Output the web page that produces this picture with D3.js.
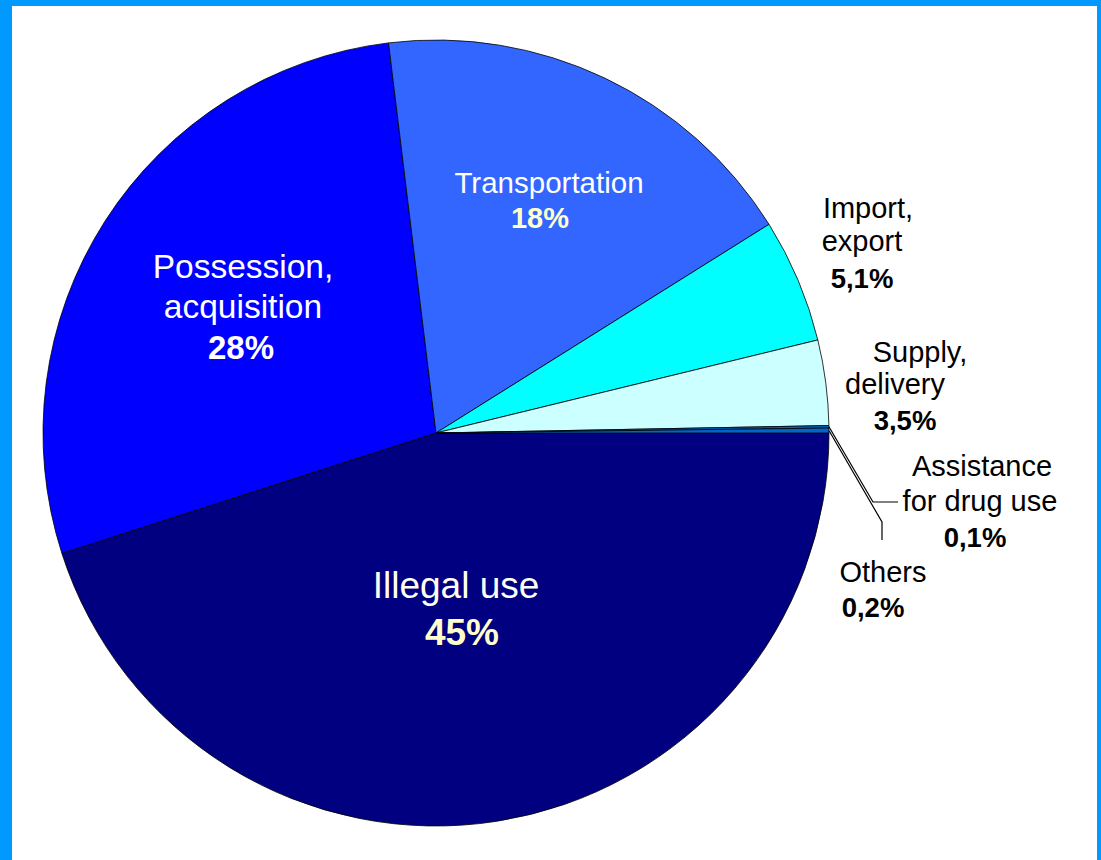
<!DOCTYPE html>
<html>
<head>
<meta charset="utf-8">
<script src="https://cdn.jsdelivr.net/npm/d3@7"></script>
<style>
  body { margin: 0; background: #fff; }
  svg { display: block; }
</style>
</head>
<body>
<svg id="chart" width="1101" height="860"></svg>
<script>
// data
let categories = ['Illegal use', 'Possession, acquisition', 'Transportation', 'Import, export',
    'Supply, delivery', 'Assistance for drug use', 'Others'];
let values = [45, 28, 18, 5.1, 3.5, 0.1, 0.2];
let colors = ['#000080', '#0000FF', '#3366FF', '#00FFFF', '#CCFFFF', '#0066CC', '#0066CC'];
let labelLines = [
    ['Illegal use'],
    ['Possession,', 'acquisition'],
    ['Transportation'],
    ['Import,', 'export'],
    ['Supply,', 'delivery'],
    ['Assistance', 'for drug use'],
    ['Others']
];

// layout of the labels (line centres and baselines)
let layout = [
    { xs: [456, 462], ys: [598, 645], size: 37, psize: 37, fill: '#FFFFF0', pfill: '#FFFFCC' },
    { xs: [243, 243, 241], ys: [278, 318, 359], size: 33.5, psize: 33, fill: '#FFFFFF', pfill: '#FFFFFF' },
    { xs: [549, 540], ys: [193, 228], size: 29.5, psize: 29, fill: '#FFFFFF', pfill: '#FFFFCC' },
    { xs: [868, 862, 862], ys: [218, 251, 288], size: 29, psize: 27.5, fill: '#000', pfill: '#000' },
    { xs: [920, 895, 905], ys: [362, 394, 430], size: 29, psize: 27.5, fill: '#000', pfill: '#000' },
    { xs: [982, 980, 975], ys: [476, 511, 547], size: 29, psize: 27.5, fill: '#000', pfill: '#000',
      leader: [[873, 502], [898, 502]] },
    { xs: [883, 873], ys: [582, 617], size: 29, psize: 27.5, fill: '#000', pfill: '#000',
      leader: [[882, 522], [882, 540]] }
];

let cx = 436, cy = 433, r = 393;

let fmt = v => (Number.isInteger(v) ? String(v) : String(v).replace('.', ',')) + '%';

let svg = d3.select('#chart');

// blue frame
svg.append('rect')
    .attr('width', 1101).attr('height', 860)
    .attr('fill', '#0099FF');
svg.append('rect')
    .attr('x', 12).attr('y', 6)
    .attr('width', 1085).attr('height', 854)
    .attr('fill', '#FFFFFF');

let pie = d3.pie()
    .sort(null)
    .startAngle(Math.PI / 2)
    .endAngle(Math.PI / 2 + 2 * Math.PI);

let arcs = pie(values);
let arc = d3.arc().innerRadius(0).outerRadius(r);

let g = svg.append('g')
    .attr('transform', `translate(${cx},${cy})`);

g.selectAll('path')
    .data(arcs)
    .enter().append('path')
    .attr('d', arc)
    .attr('fill', (d, i) => colors[i])
    .attr('stroke', '#000')
    .attr('stroke-width', 0.8)
    .attr('stroke-linejoin', 'round');

// leader lines for the tiny slices
arcs.forEach((d, i) => {
    if (!layout[i].leader) return;
    let a = (d.startAngle + d.endAngle) / 2;
    let p0 = [cx + r * Math.sin(a), cy - r * Math.cos(a)];
    let pts = [p0].concat(layout[i].leader);
    svg.append('path')
        .attr('d', d3.line()(pts))
        .attr('fill', 'none')
        .attr('stroke', '#000')
        .attr('stroke-width', 1.2);
});

// labels
let labels = svg.append('g')
    .attr('font-family', 'Liberation Sans, Arial, sans-serif')
    .attr('text-anchor', 'middle');

values.forEach((v, i) => {
    let L = layout[i];
    let lines = labelLines[i].concat([fmt(v)]);
    lines.forEach((t, j) => {
        let last = j == lines.length - 1;
        labels.append('text')
            .attr('x', L.xs[j])
            .attr('y', L.ys[j])
            .attr('font-size', last ? L.psize : L.size)
            .attr('font-weight', last ? 'bold' : 'normal')
            .attr('fill', last ? L.pfill : L.fill)
            .text(t);
    });
});
</script>
</body>
</html>
